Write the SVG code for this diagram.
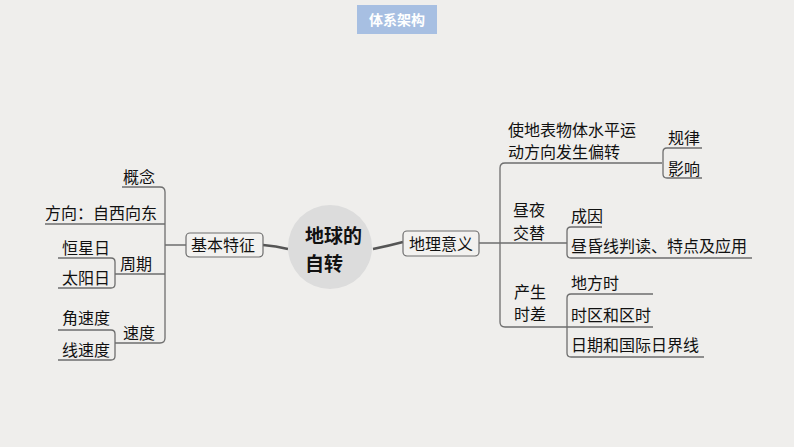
<svg xmlns="http://www.w3.org/2000/svg" width="794" height="447" viewBox="0 0 794 447">
<style>
text{font-family:"Liberation Serif","Noto Sans CJK SC",serif;font-size:16px;fill:#111}
.l{fill:none;stroke:#6e6e6e;stroke-width:1.3}
.b{fill:#f2f1ef;stroke:#6e6e6e;stroke-width:1.2}
.c{fill:none;stroke:#555;stroke-width:2.5}
.ct{font-size:19px;font-weight:bold;font-family:"Noto Sans CJK SC",sans-serif}
</style>
<rect width="794" height="447" fill="#efeeec"/>
<g id="title"><rect x="357" y="5" width="80" height="29" fill="#a7bfe2"/><text x="397" y="25" text-anchor="middle" style="fill:#fff;font-size:14px;font-weight:bold">体系架构</text></g>
<g id="connectors">
<path class="c" d="M263,245 Q276,246 288,249"/>
<path class="c" d="M373,249 Q388,246 403,242"/>
<path class="l" d="M122,187 H160 Q165,187 165,192 V338 Q165,343 160,343 H115"/>
<path class="l" d="M45,224 H165 M165,245 H186 M115,274 H165"/>
<path class="l" d="M58,258 H111 Q115,258 115,262 V284 Q115,288 111,288 H58"/>
<path class="l" d="M58,330 H111 Q115,330 115,334 V356 Q115,360 111,360 H58"/>
<path class="l" d="M479,243 H567 M662,163 H505 Q500,163 500,168 V322 Q500,327 505,327 H653"/>
<path class="l" d="M702,148 H667 Q663,148 663,152 V174 Q663,178 667,178 H702"/>
<path class="l" d="M602,227 H571 Q567,227 567,231 V254 Q567,258 571,258 H752"/>
<path class="l" d="M653,294 H571 Q567,294 567,298 V353 Q567,357 571,357 H704"/>
</g>
<g id="center"><circle cx="330" cy="247" r="42" fill="#dcdcdc"/><text class="ct" x="305" y="243">地球的</text><text class="ct" x="305" y="271">自转</text></g>
<g id="jbtz"><rect class="b" x="186" y="233" width="77" height="24" rx="4"/><text x="191" y="251">基本特征</text></g>
<g id="dlyy"><rect class="b" x="403" y="231" width="76" height="25" rx="4"/><text x="409" y="250">地理意义</text></g>
<g id="left">
<text x="123" y="183">概念</text>
<text x="45" y="219">方向：自西向东</text>
<text x="62" y="254">恒星日</text>
<text x="120" y="270">周期</text>
<text x="62" y="284">太阳日</text>
<text x="62" y="324">角速度</text>
<text x="123" y="339">速度</text>
<text x="62" y="356">线速度</text>
</g>
<g id="right">
<text x="508" y="136">使地表物体水平运</text>
<text x="508" y="158">动方向发生偏转</text>
<text x="668" y="144">规律</text>
<text x="668" y="175">影响</text>
<text x="513" y="216">昼夜</text>
<text x="513" y="239">交替</text>
<text x="571" y="222">成因</text>
<text x="571" y="252">昼昏线判读、特点及应用</text>
<text x="514" y="298">产生</text>
<text x="514" y="320">时差</text>
<text x="571" y="289">地方时</text>
<text x="571" y="321">时区和区时</text>
<text x="571" y="351">日期和国际日界线</text>
</g>
</svg>
